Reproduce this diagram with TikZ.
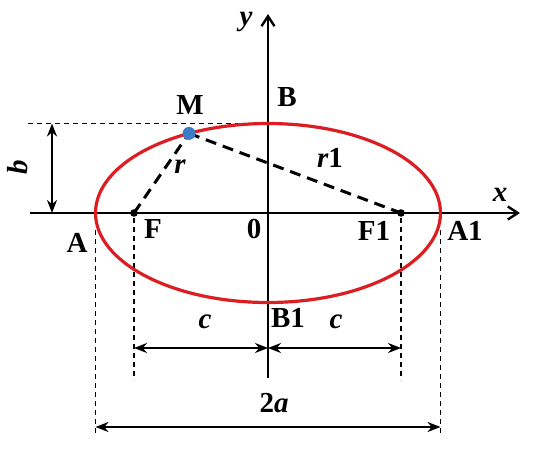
\documentclass[tikz,border=0pt]{standalone}
\usepackage{fontspec}
\setmainfont{Liberation Serif}
\usetikzlibrary{arrows.meta}
\definecolor{ellred}{RGB}{220,30,35}
\definecolor{mblue}{RGB}{60,125,200}
\begin{document}
\begin{tikzpicture}[x=1pt,y=-1pt,
  lbl/.style={font=\fontsize{29}{32}\selectfont\bfseries, inner sep=0pt},
  ilbl/.style={font=\fontsize{29}{32}\selectfont\bfseries\itshape, inner sep=0pt},
  axis/.style={line width=2.6pt, -{Straight Barb[length=10pt,width=13pt,line width=2.4pt]}},
  dim/.style={line width=2.6pt, {Stealth[length=13pt,width=10pt]}-{Stealth[length=13pt,width=10pt]}},
  guide/.style={line width=1.7pt, dash pattern=on 5pt off 4pt},
  focal/.style={line width=3pt, dash pattern=on 11pt off 7pt},
  ell/.style={draw=ellred, line width=3.2pt}]
\useasboundingbox (0,0) rectangle (542,453);
% key points
\coordinate (O) at (268,213);
\coordinate (xs) at (30,213);
\coordinate (xe) at (520,213);
\coordinate (ys) at (268,378);
\coordinate (ye) at (268,14);
\coordinate (F) at (134,213);
\coordinate (F1) at (401,213);
\coordinate (M) at (189,133.4);
\coordinate (Btop) at (268,123.5);
\coordinate (tl) at (28,123.5);
\coordinate (bt) at (52,123.5);
\coordinate (bb) at (52,213);
\coordinate (Ad1) at (95.5,230);
\coordinate (Ad2) at (95.5,434);
\coordinate (A1d1) at (440.5,230);
\coordinate (A1d2) at (440.5,434);
\coordinate (Fd1) at (134,218);
\coordinate (Fd2) at (134,380);
\coordinate (F1d1) at (401,218);
\coordinate (F1d2) at (401,380);
\coordinate (cl) at (134,348);
\coordinate (cm) at (268,348);
\coordinate (cr) at (401,348);
\coordinate (al) at (95.5,427);
\coordinate (ar) at (440.5,427);
% guides
\draw[guide] (tl) -- (Btop);
\draw[guide] (Ad1) -- (Ad2);
\draw[guide] (A1d1) -- (A1d2);
\draw[guide] (Fd1) -- (Fd2);
\draw[guide] (F1d1) -- (F1d2);
% axes
\draw[axis] (xs) -- (xe);
\draw[axis] (ys) -- (ye);
% ellipse
\draw[ell] (O) ellipse [x radius=172.5, y radius=89.5];
% focal radii
\draw[focal] (F) -- (M);
\draw[focal] (M) -- (F1);
% dimension arrows
\draw[dim] (bt) -- (bb);
\draw[dim] (cl) -- (cm);
\draw[dim] (cm) -- (cr);
\draw[dim] (al) -- (ar);
% points
\fill[mblue] (M) circle (6.5);
\fill (F) circle (3.8);
\fill (F1) circle (3.8);
% labels
\node[ilbl] (ly) at (246,22) {y};
\node[ilbl] (lx) at (500,195) {x};
\node[lbl] (lM) at (190,105) {M};
\node[lbl] (lB) at (287,97) {B};
\node[ilbl, rotate=90] (lb) at (18,167) {b};
\node[ilbl] (lr) at (180,167) {r};
\node[lbl] (lr1) at (330,158) {\itshape r\upshape 1};
\node[lbl] (lA) at (77,243) {A};
\node[lbl] (lF) at (153,229) {F};
\node[lbl] (l0) at (254,229) {0};
\node[lbl] (lF1) at (374,231) {F1};
\node[lbl] (lA1) at (465,231) {A1};
\node[lbl] (lB1) at (288,318) {B1};
\node[ilbl] (lc1) at (205,322) {c};
\node[ilbl] (lc2) at (336,322) {c};
\node[lbl] (l2a) at (274,403) {2\itshape a};
\end{tikzpicture}
\end{document}
